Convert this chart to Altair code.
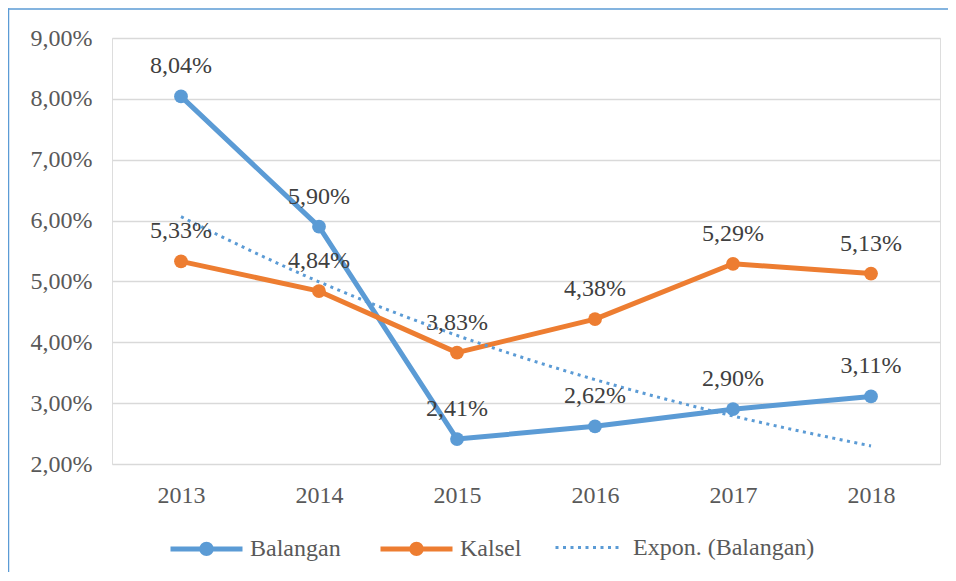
import altair as alt
import pandas as pd

years = [2013, 2014, 2015, 2016, 2017, 2018]
balangan = [8.04, 5.90, 2.41, 2.62, 2.90, 3.11]
kalsel = [5.33, 4.84, 3.83, 4.38, 5.29, 5.13]
series_names = ["Balangan", "Kalsel"]
series_colors = ["#5B9BD5", "#ED7D31"]
trend_name = "Expon. (Balangan)"
y_ticks = [2, 3, 4, 5, 6, 7, 8, 9]

rows = []
for y, v in zip(years, balangan):
    rows.append({"year": y, "series": "Balangan", "value": v})
for y, v in zip(years, kalsel):
    rows.append({"year": y, "series": "Kalsel", "value": v})
df = pd.DataFrame(rows)

FONT = "Liberation Serif"

color_scale = alt.Scale(domain=series_names, range=series_colors)

# line + filled dot symbol, drawn with strokes only (two concentric rings fill the dot)
SYMBOL = ("M-1,0H1"
          "M0.13,0A0.13,0.13 0 1,1 -0.13,0A0.13,0.13 0 1,1 0.13,0"
          "M0.06,0A0.06,0.06 0 1,1 -0.06,0A0.06,0.06 0 1,1 0.06,0")

legend_main = alt.Legend(
    title=None,
    orient="none",
    legendX=56,
    legendY=472,
    direction="horizontal",
    labelFont=FONT,
    labelFontSize=24,
    labelColor="#595959",
    labelOffset=5,
    labelLimit=300,
    columnPadding=29,
    symbolType=SYMBOL,
    symbolSize=5184,
    symbolStrokeWidth=5,
    symbolOpacity=1,
)

legend_trend = alt.Legend(
    title=None,
    orient="none",
    legendX=442,
    legendY=476,
    direction="horizontal",
    labelFont=FONT,
    labelFontSize=24,
    labelColor="#595959",
    labelOffset=12,
    labelLimit=300,
    symbolType="stroke",
    symbolSize=4096,
    symbolStrokeWidth=3,
    symbolStrokeColor="#5B9BD5",
    symbolOpacity=1,
)

x_enc = alt.X(
    "year:O",
    scale=alt.Scale(type="point", padding=0.5),
    axis=alt.Axis(
        title=None,
        labelAngle=0,
        domain=False,
        ticks=False,
        grid=False,
        labelFont=FONT,
        labelFontSize=24,
        labelColor="#595959",
        labelPadding=19,
    ),
)
y_enc = alt.Y(
    "value:Q",
    scale=alt.Scale(domain=[2, 9], nice=False, zero=False),
    axis=alt.Axis(
        title=None,
        values=y_ticks,
        grid=True,
        gridColor="#D9D9D9",
        gridWidth=1.5,
        domain=False,
        ticks=False,
        labelFont=FONT,
        labelFontSize=24,
        labelColor="#595959",
        labelPadding=20,
        labelExpr="replace(format(datum.value, '.2f'), '.', ',') + '%'",
    ),
)

base = alt.Chart(df)

lines = base.mark_line(strokeWidth=5, strokeJoin="round", strokeCap="round").encode(
    x=x_enc,
    y=y_enc,
    color=alt.Color("series:N", scale=color_scale, legend=legend_main),
    order=alt.Order("year:O"),
)

points = base.mark_point(filled=True, shape="circle", size=190, opacity=1).encode(
    x=x_enc,
    y=y_enc,
    color=alt.Color("series:N", scale=color_scale, legend=legend_main),
)

trend = (
    base.transform_filter(alt.datum.series == "Balangan")
    .transform_calculate(lv="log(datum.value)")
    .transform_joinaggregate(mx="mean(year)", ml="mean(lv)")
    .transform_calculate(
        dx="datum.year - datum.mx",
        dxy="(datum.year - datum.mx) * (datum.lv - datum.ml)",
        dxx="pow(datum.year - datum.mx, 2)",
    )
    .transform_joinaggregate(sxy="sum(dxy)", sxx="sum(dxx)")
    .transform_calculate(
        trend="exp(datum.ml + datum.sxy / datum.sxx * datum.dx)",
        tseries="'" + trend_name + "'",
    )
    .mark_line(strokeWidth=3, color="#5B9BD5", interpolate="monotone")
    .encode(
        x=x_enc,
        y=alt.Y("trend:Q"),
        strokeDash=alt.StrokeDash(
            "tseries:N",
            scale=alt.Scale(domain=[trend_name], range=[[3, 4.5]]),
            legend=legend_trend,
        ),
    )
)

labels = (
    base.transform_calculate(
        lbl="replace(format(datum.value, '.2f'), '.', ',') + '%'"
    )
    .mark_text(font=FONT, fontSize=24, color="#404040", dy=-30, baseline="middle")
    .encode(x=x_enc, y=y_enc, text="lbl:N")
)

one = pd.DataFrame({"a": [0]})
border_top = (
    alt.Chart(one)
    .mark_rect(fill="#5B9BD5", strokeWidth=0)
    .encode(x=alt.value(-104.25), x2=alt.value(900), y=alt.value(-29.75), y2=alt.value(-28.25))
)
border_left = (
    alt.Chart(one)
    .mark_rect(fill="#5B9BD5", strokeWidth=0)
    .encode(x=alt.value(-104.25), x2=alt.value(-102.75), y=alt.value(-29.75), y2=alt.value(534))
)

chart = (
    alt.layer(border_top, border_left, lines, points, trend, labels)
    .properties(
        width=828,
        height=426,
        autosize=alt.AutoSizeParams(type="none"),
        padding={"left": 104, "top": 30, "right": 8, "bottom": 109},
    )
    .configure_view(stroke=None)
    .configure(background="white")
)

chart.save("out.html", embed_options={"renderer": "svg", "actions": False})
